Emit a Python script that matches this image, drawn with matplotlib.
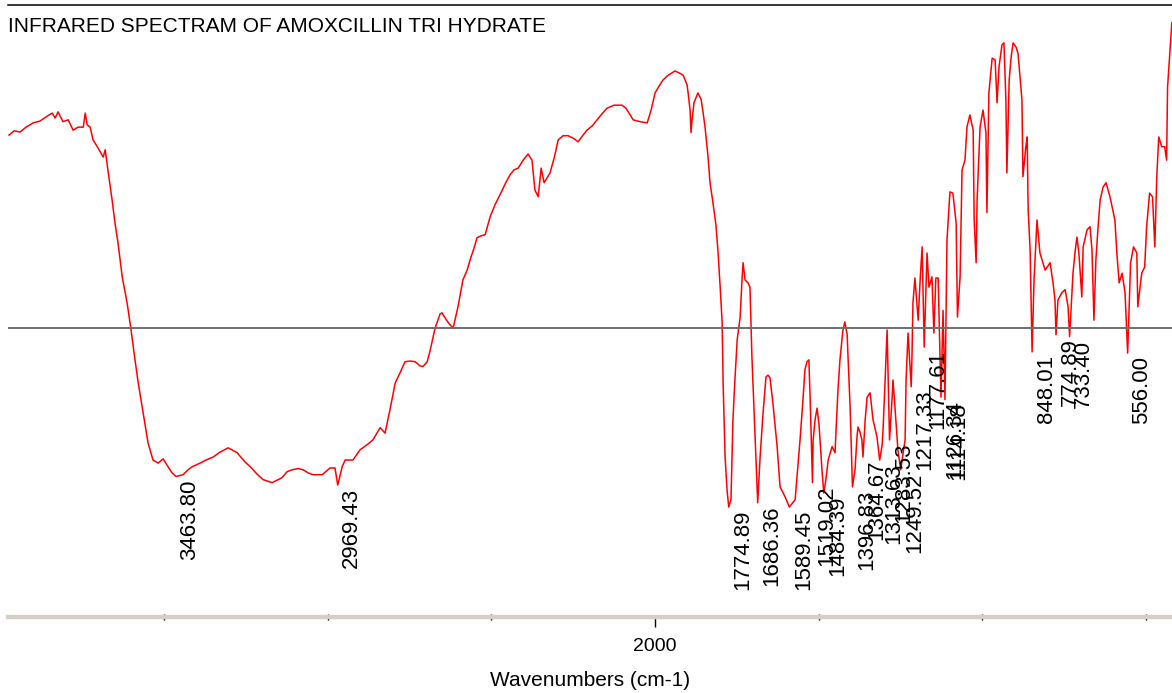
import numpy as np
import matplotlib.pyplot as plt

plt.rcParams['font.family'] = ['Liberation Sans', 'DejaVu Sans']

# IR spectrum (wavenumber cm-1, %T)
wavenumber = [
    3974, 3958, 3940, 3922, 3900, 3879, 3860, 3842, 3833, 3824, 3809, 3793, 3778, 3763,
    3747, 3741, 3735, 3726, 3717, 3702, 3686, 3680, 3671, 3659, 3650, 3641, 3628, 3613,
    3601, 3589, 3579, 3564, 3549, 3534, 3518, 3503, 3488, 3476, 3463.8, 3442, 3427, 3414,
    3390, 3372, 3350, 3329, 3304, 3277, 3253, 3237, 3216, 3198, 3170, 3140, 3124, 3109,
    3091, 3075, 3060, 3045, 3017, 2993, 2978, 2969.43, 2956, 2947, 2923, 2901, 2880, 2862,
    2840, 2825, 2810, 2794, 2779, 2764, 2748, 2733, 2718, 2709, 2696, 2687, 2672, 2657,
    2651, 2642, 2629, 2617, 2602, 2587, 2574, 2565, 2553, 2544, 2532, 2519, 2504, 2489,
    2474, 2458, 2443, 2431, 2418, 2403, 2388, 2376, 2367, 2357, 2348, 2339, 2330, 2321,
    2308, 2296, 2281, 2266, 2250, 2235, 2220, 2208, 2192, 2177, 2162, 2147, 2125, 2101,
    2089, 2076, 2067, 2046, 2024, 2012, 2000, 1988, 1976, 1960, 1939, 1927, 1914, 1902,
    1899, 1893, 1890, 1887, 1881, 1869, 1859, 1853, 1847, 1838, 1832, 1823, 1814, 1808,
    1801, 1795, 1792, 1786, 1780, 1774.89, 1768, 1762, 1756, 1749, 1740, 1734, 1731, 1725,
    1716, 1710, 1704, 1694, 1686.36, 1679, 1670, 1661, 1655, 1649, 1640, 1627, 1618, 1603,
    1589.45, 1572, 1557, 1548, 1542, 1536, 1530, 1526, 1519.02, 1517, 1511, 1505, 1499, 1496,
    1490, 1484.39, 1478, 1471, 1459, 1450, 1447, 1441, 1435, 1426, 1420, 1413, 1410, 1404,
    1396.83, 1389, 1383, 1380, 1374, 1368, 1364.67, 1358, 1352, 1343, 1334, 1322, 1313.63, 1306,
    1303, 1297, 1291, 1288, 1283.53, 1276, 1273, 1267, 1258, 1249.52, 1245, 1236, 1233, 1227,
    1217.33, 1215, 1212, 1206, 1196, 1190, 1184, 1177.61, 1169, 1163, 1154, 1148, 1142, 1135,
    1126.34, 1120, 1114.18, 1108, 1099, 1090, 1080, 1076, 1068, 1062, 1053, 1047, 1038, 1028,
    1025, 1019, 1016, 1007, 998, 989, 986, 980, 970, 961, 955, 949, 940, 934,
    928, 925, 918, 912, 906, 897, 891, 879, 876, 867, 863, 860, 854, 848.01,
    842, 833, 824, 808, 793, 784, 778, 774.89, 769, 757, 747, 738, 733.40, 723,
    717, 711, 705, 696, 692, 680, 671, 665, 659, 653, 647, 640, 631, 622,
    610, 595, 589, 582, 573, 564, 556.00, 547, 538, 528, 525, 513, 504, 498,
    489, 480, 473, 467, 461, 452, 443, 437, 434, 428, 421,
]
transmittance = [
    78.7, 79.4, 79.2, 80.0, 80.7, 81.0, 81.7, 82.3, 81.5, 82.5, 80.9, 81.2, 79.5, 80.0,
    80.0, 82.3, 80.4, 80.0, 77.9, 76.6, 75.1, 76.3, 72.7, 68.1, 64.3, 61.1, 55.5, 51.2,
    46.8, 41.9, 38.1, 33.2, 28.3, 25.5, 25.0, 25.7, 24.4, 23.4, 22.8, 23.1, 23.9, 24.4,
    25.0, 25.5, 26.0, 26.8, 27.5, 26.7, 25.2, 24.4, 23.2, 22.3, 21.8, 22.6, 23.6, 23.9,
    24.1, 23.9, 23.4, 23.1, 23.1, 24.2, 24.2, 21.4, 24.4, 25.5, 25.5, 27.2, 28.0, 28.8,
    30.8, 29.9, 33.7, 38.1, 39.8, 41.6, 41.7, 41.6, 40.9, 40.8, 41.6, 43.5, 47.1, 49.4,
    49.6, 48.8, 47.8, 47.1, 50.6, 55.0, 56.6, 58.3, 60.2, 61.9, 62.2, 62.4, 65.3, 67.3,
    68.9, 70.7, 72.2, 73.0, 73.3, 74.6, 75.6, 74.6, 69.7, 68.6, 73.3, 70.9, 71.7, 72.5,
    75.0, 77.9, 78.6, 78.6, 78.2, 77.6, 78.7, 79.5, 80.2, 81.2, 82.2, 83.1, 83.6, 83.6,
    83.1, 82.0, 81.2, 80.9, 80.7, 82.8, 85.6, 86.7, 87.7, 88.5, 89.2, 88.9, 88.5, 86.9,
    85.6, 82.8, 79.1, 81.2, 84.0, 85.6, 84.5, 82.3, 79.9, 75.1, 70.9, 67.6, 64.0, 59.9,
    53.8, 48.0, 38.1, 26.0, 20.6, 17.8, 19.0, 32.1, 38.6, 45.2, 48.9, 55.3, 57.8, 55.0,
    54.5, 53.8, 42.4, 28.8, 18.5, 26.0, 33.2, 39.1, 39.4, 39.0, 34.9, 27.7, 21.1, 19.5,
    17.8, 19.0, 28.8, 35.4, 40.3, 41.6, 41.9, 35.4, 21.8, 28.8, 32.1, 34.0, 31.3, 28.8,
    23.9, 20.1, 22.3, 25.5, 27.7, 26.7, 30.4, 37.0, 41.9, 46.8, 48.1, 46.0, 41.9, 34.2,
    21.1, 23.9, 29.3, 30.9, 30.1, 28.8, 26.0, 32.1, 35.8, 36.5, 32.1, 29.3, 25.5, 28.0,
    30.9, 38.6, 46.8, 39.8, 28.8, 35.4, 38.6, 34.2, 27.2, 23.9, 25.5, 28.8, 38.6, 46.3,
    37.5, 42.4, 51.2, 55.3, 48.4, 55.0, 60.4, 44.0, 59.4, 53.8, 55.5, 46.3, 55.3, 55.3,
    35.8, 50.0, 35.4, 61.5, 69.4, 69.2, 64.3, 48.9, 55.5, 73.0, 74.6, 80.0, 82.0, 79.5,
    64.8, 57.8, 68.1, 80.0, 82.8, 79.1, 66.0, 85.6, 91.3, 91.0, 84.0, 89.9, 93.5, 93.8,
    84.5, 72.5, 87.7, 91.5, 93.8, 93.1, 92.1, 84.5, 71.9, 76.8, 78.4, 66.5, 59.9, 43.2,
    55.0, 64.8, 59.4, 56.6, 57.8, 54.5, 51.7, 46.0, 51.7, 52.9, 53.4, 50.6, 45.7, 56.1,
    59.4, 62.0, 59.4, 52.2, 60.4, 63.2, 63.7, 59.9, 48.4, 58.3, 63.2, 68.1, 70.2, 70.9,
    68.6, 64.8, 59.4, 54.5, 56.1, 52.9, 43.0, 57.8, 60.4, 59.4, 50.6, 56.1, 57.1, 63.7,
    69.2, 68.6, 60.4, 71.9, 78.4, 76.8, 76.8, 74.6, 86.6, 91.5, 97.1,
]

# picked peaks (below the threshold line)
peak_wn = [3463.80, 2969.43, 1774.89, 1686.36, 1589.45, 1519.02, 1484.39, 1396.83,
           1364.67, 1313.63, 1283.53, 1249.52, 1217.33, 1177.61, 1126.34, 1114.18,
           848.01, 774.89, 733.40, 556.00]
threshold = 47.1

title = "INFRARED SPECTRAM OF AMOXCILLIN TRI HYDRATE"

fig = plt.figure(figsize=(11.72, 6.93), dpi=100)
ax = fig.add_axes([8 / 1172, 76 / 693, 1164 / 1172, 612 / 693])

ax.plot(wavenumber, transmittance, color="#ff0000", lw=1.1)
ax.axhline(threshold, color="#6e6e6e", lw=1.4)

wn_sorted = np.array(wavenumber)[::-1]
t_sorted = np.array(transmittance)[::-1]
for wn in peak_wn:
    t = np.interp(wn, wn_sorted, t_sorted)
    ax.annotate(f"{wn:.2f}", (wn, t), xytext=(14, -3), textcoords="offset pixels",
                rotation=90, ha="center", va="top", fontsize=16, color="black")

ax.set_xlim(3977, 420.5)
ax.set_ylim(-0.2, 100)
ax.set_yticks([])
ax.set_xticks([2000])
ax.set_xticklabels(["2000"])
ax.set_xticks([3500, 3000, 2500, 1500, 1000, 500], minor=True)
ax.tick_params(which="major", direction="out", length=7, width=1, color="black",
               labelsize=14, pad=8)
ax.tick_params(which="minor", direction="inout", length=4, width=1, color="black")
ax.set_xlabel("Wavenumbers (cm-1)", fontsize=15, labelpad=12)

for side in ["left", "right"]:
    ax.spines[side].set_visible(False)
ax.spines["top"].set_color("black")
ax.spines["top"].set_linewidth(1.1)
ax.spines["bottom"].set_color("#d4d0c8")
ax.spines["bottom"].set_linewidth(3.2)

fig.text(8 / 1172, 1 - 17 / 693, title, ha="left", va="top", fontsize=15)

plt.savefig("out.png", dpi=100)
